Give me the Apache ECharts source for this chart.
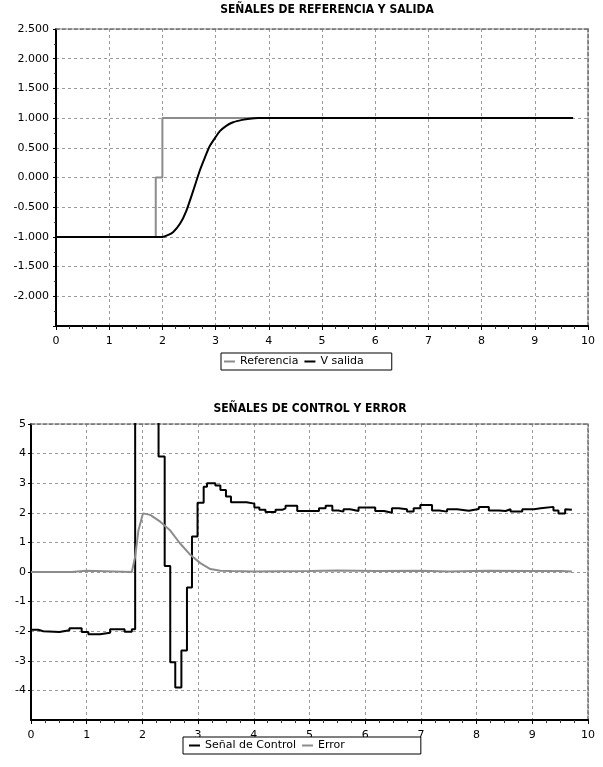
<!DOCTYPE html>
<html>
<head>
<meta charset="utf-8">
<script src="https://cdn.jsdelivr.net/npm/echarts@6/dist/echarts.min.js"></script>
<style>
  html, body { margin: 0; padding: 0; background: #fff; }
  #chart { width: 603px; height: 767px; }
</style>
</head>
<body>
<div id="chart"></div>
<script>
// top chart
const refTime = [0, 1.875, 2.0, 9.72];
const refValue = [-1, 0, 1, 1];
const outTime = [0, 2.0, 2.1, 2.2, 2.33, 2.45, 2.58, 2.7, 2.8, 2.89, 3.0, 3.08, 3.2, 3.33, 3.5, 3.64, 3.8, 4.0, 9.72];
const outValue = [-1, -1, -0.97, -0.92, -0.78, -0.56, -0.22, 0.11, 0.34, 0.53, 0.68, 0.78, 0.87, 0.93, 0.97, 0.99, 1.0, 1.0, 1.0];

// bottom chart
const ctlTime = [0, 0.13, 0.22, 0.51, 0.69, 0.91, 1.03, 1.24, 1.42, 1.68, 1.81, 1.87, 2.29, 2.40, 2.50, 2.59, 2.70, 2.80, 2.89, 2.99,
    3.10, 3.16, 3.31, 3.40, 3.50, 3.59, 3.87, 4.01, 4.10, 4.21, 4.39, 4.51, 4.57, 4.78, 5.17, 5.29, 5.41, 5.52, 5.61, 5.73,
    5.88, 6.18, 6.34, 6.48, 6.60, 6.75, 6.87, 6.99, 7.2, 7.33, 7.47, 7.65, 7.86, 8.04, 8.22, 8.40, 8.52, 8.61, 8.82, 9.03,
    9.15, 9.38, 9.47, 9.59, 9.62, 9.71];
const ctlValue = [-1.95, -2.0, -2.03, -1.97, -1.9, -2.03, -2.1, -2.05, -1.93, -2.02, -1.93, 12, 3.9, 0.2, -3.05, -3.9, -2.65, -0.52, 1.2, 2.34,
    2.88, 3.0, 2.92, 2.77, 2.55, 2.36, 2.31, 2.18, 2.1, 2.03, 2.1, 2.15, 2.24, 2.06, 2.15, 2.24, 2.08, 2.04, 2.12, 2.06,
    2.18, 2.06, 2.0, 2.15, 2.12, 2.04, 2.15, 2.26, 2.08, 2.04, 2.12, 2.07, 2.13, 2.2, 2.08, 2.06, 2.12, 2.04, 2.12, 2.15,
    2.2, 2.08, 1.98, 2.12, 2.1, 2.1];
const errTime = [0, 0.73, 0.74, 0.99, 1.0, 1.81, 1.87, 1.93, 2.01, 2.14, 2.32, 2.49, 2.67, 2.86, 3.04, 3.22, 3.4, 3.6, 4.0,
    5.0, 5.5, 6.2, 7.0, 7.5, 8.2, 9.0, 9.5, 9.71];
const errValue = [0, 0, 0.04, 0.04, 0, 0, 0.52, 1.42, 1.98, 1.93, 1.7, 1.42, 0.98, 0.58, 0.30, 0.1, 0.04, 0.03, 0.02,
    0.03, 0.05, 0.03, 0.04, 0.02, 0.04, 0.03, 0.03, 0.02];

const zip = (xs, ys) => xs.map((x, i) => [x, ys[i]]);

const GRAY = '#8c8c8c';
const FONT = 'DejaVu Sans';
const TITLE_FONT = 'Liberation Sans Narrow, DejaVu Sans Condensed, Liberation Sans';
const gridLine = { show: true, lineStyle: { color: '#9a9a9a', width: 1, type: [3, 3] } };
const border = { show: true, onZero: false, lineStyle: { color: '#6e6e6e', width: 1.5, type: [4, 2] } };

const xMain = (gridIndex) => ({
    type: 'value', gridIndex, min: 0, max: 10, interval: 1,
    axisLine: { onZero: false, lineStyle: { color: '#000', width: 2 } },
    axisTick: { show: true, length: 4, lineStyle: { color: '#000' } },
    minorTick: { show: true, splitNumber: 4, length: 3, lineStyle: { color: '#333' } },
    axisLabel: { color: '#000', fontFamily: FONT, fontSize: 11, margin: 10 },
    splitLine: gridLine
});
const xBorder = (gridIndex) => ({
    type: 'value', gridIndex, position: 'top', min: 0, max: 10,
    axisLine: border, axisTick: { show: false }, axisLabel: { show: false }, splitLine: { show: false }
});
const yBorder = (gridIndex, min, max) => ({
    type: 'value', gridIndex, position: 'right', min, max,
    axisLine: border, axisTick: { show: false }, axisLabel: { show: false }, splitLine: { show: false }
});

const legendBase = {
    orient: 'horizontal',
    icon: 'rect',
    itemWidth: 11,
    itemHeight: 2,
    itemGap: 6,
    borderColor: '#000',
    borderWidth: 1,
    backgroundColor: '#fff',
    textStyle: { color: '#000', fontFamily: FONT, fontSize: 11 }
};

const option = {
    animation: false,
    backgroundColor: '#fff',
    title: [
        { text: 'SEÑALES DE REFERENCIA Y SALIDA', left: 327, top: 4, padding: 0, textAlign: 'center',
          textStyle: { fontFamily: TITLE_FONT, fontWeight: 'bold', fontSize: 12, color: '#000' } },
        { text: 'SEÑALES DE CONTROL Y ERROR', left: 310, top: 403, padding: 0, textAlign: 'center',
          textStyle: { fontFamily: TITLE_FONT, fontWeight: 'bold', fontSize: 12, color: '#000' } }
    ],
    legend: [
        Object.assign({}, legendBase, { left: 221, top: 353, padding: [3, 28, 3, 3], data: ['Referencia', 'V salida'] }),
        Object.assign({}, legendBase, { left: 183, top: 737, padding: [3, 76, 3, 6], data: ['Señal de Control', 'Error'] })
    ],
    grid: [
        { left: 56, right: 15, top: 29, height: 297 },
        { left: 31, right: 15, top: 424, height: 296 }
    ],
    xAxis: [xMain(0), xBorder(0), xMain(1), xBorder(1)],
    yAxis: [
        {
            type: 'value', gridIndex: 0, min: -2.5, max: 2.5, interval: 0.5,
            axisLine: { show: true, onZero: false, lineStyle: { color: '#000', width: 2 } },
            axisTick: { show: true, length: 3, lineStyle: { color: '#000' } },
            minorTick: { show: true, splitNumber: 2, length: 2, lineStyle: { color: '#333' } },
            axisLabel: { color: '#000', fontFamily: FONT, fontSize: 11, margin: 7, showMinLabel: false,
                formatter: v => v.toFixed(3) },
            splitLine: gridLine
        },
        yBorder(0, -2.5, 2.5),
        {
            type: 'value', gridIndex: 1, min: -5, max: 5, interval: 1,
            axisLine: { show: true, onZero: false, lineStyle: { color: '#000', width: 2 } },
            axisTick: { show: true, length: 3, lineStyle: { color: '#000' } },
            axisLabel: { color: '#000', fontFamily: FONT, fontSize: 11, margin: 5, showMinLabel: false },
            splitLine: gridLine
        },
        yBorder(1, -5, 5)
    ],
    series: [
        { name: 'Referencia', type: 'line', xAxisIndex: 0, yAxisIndex: 0, step: 'end', showSymbol: false,
          data: zip(refTime, refValue), itemStyle: { color: GRAY }, lineStyle: { color: GRAY, width: 2 } },
        { name: 'V salida', type: 'line', xAxisIndex: 0, yAxisIndex: 0, showSymbol: false, smooth: 0.2,
          data: zip(outTime, outValue), itemStyle: { color: '#000' }, lineStyle: { color: '#000', width: 2 } },
        { name: 'Señal de Control', type: 'line', xAxisIndex: 2, yAxisIndex: 2, step: 'end', showSymbol: false, clip: true,
          data: zip(ctlTime, ctlValue), itemStyle: { color: '#000' }, lineStyle: { color: '#000', width: 2 } },
        { name: 'Error', type: 'line', xAxisIndex: 2, yAxisIndex: 2, showSymbol: false,
          data: zip(errTime, errValue), itemStyle: { color: GRAY }, lineStyle: { color: GRAY, width: 2 } }
    ]
};

const chart = echarts.init(document.getElementById('chart'), null, { renderer: 'canvas' });
chart.setOption(option);
</script>
</body>
</html>
